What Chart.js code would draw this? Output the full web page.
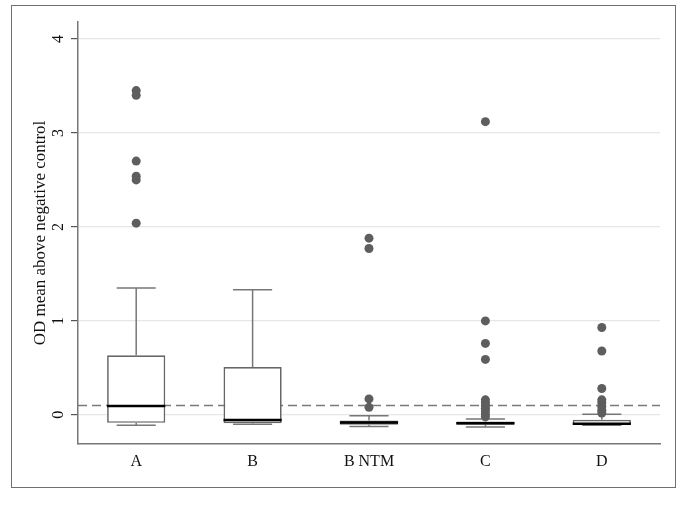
<!DOCTYPE html>
<html>
<head>
<meta charset="utf-8">
<script src="https://cdn.jsdelivr.net/npm/chart.js@4.4.1/dist/chart.umd.min.js"></script>
<style>
  html, body { margin: 0; padding: 0; background: #ffffff; }
  #wrap { position: relative; width: 685px; height: 506px; }
  #frame { position: absolute; left: 11px; top: 5px; width: 663px; height: 481px;
           border: 1.5px solid #707070; pointer-events: none; }
  canvas { position: absolute; left: 0; top: 0; }
</style>
</head>
<body>
<div id="wrap">
  <canvas id="c" width="685" height="506"></canvas>
  <div id="frame"></div>
</div>
<script>
// ---- data ----
const categories   = ['A', 'B', 'B NTM', 'C', 'D'];
const whiskerLow   = [-0.11, -0.10, -0.125, -0.13, -0.11];
const q1           = [-0.085, -0.09, -0.105, -0.105, -0.105];
const median       = [0.093, -0.055, -0.08, -0.09, -0.095];
const q3           = [0.635, 0.51, -0.06, -0.07, -0.053];
const whiskerHigh  = [1.35, 1.33, -0.01, -0.045, 0.007];
const outliersA    = [3.45, 3.40, 2.70, 2.54, 2.50, 2.04];
const outliersB    = [];
const outliersBNTM = [1.88, 1.77, 0.17, 0.08];
const outliersC    = [3.12, 1.00, 0.76, 0.59, 0.16, 0.13, 0.10, 0.07, 0.04, 0.01, -0.02];
const outliersD    = [0.93, 0.68, 0.28, 0.16, 0.13, 0.09, 0.05, 0.02];
const threshold    = 0.1;
const yTicks       = [0, 1, 2, 3, 4];
const yTitle       = 'OD mean above negative control';

// ---- build datasets ----
const outlierLists = [outliersA, outliersB, outliersBNTM, outliersC, outliersD];
const HALF_BOX = 0.25, HALF_CAP = 0.168;
const gap = (x) => ({ x: x, y: null });

const boxData = categories.map((c, i) => ({ x: i + 1, y: [q1[i], q3[i]] }));

const whiskerData = [];
categories.forEach((c, i) => {
  const x = i + 1;
  whiskerData.push({ x, y: q3[i] }, { x, y: whiskerHigh[i] }, gap(x));
  whiskerData.push({ x: x - HALF_CAP, y: whiskerHigh[i] }, { x: x + HALF_CAP, y: whiskerHigh[i] }, gap(x));
  whiskerData.push({ x, y: q1[i] }, { x, y: whiskerLow[i] }, gap(x));
  whiskerData.push({ x: x - HALF_CAP, y: whiskerLow[i] }, { x: x + HALF_CAP, y: whiskerLow[i] }, gap(x));
});

const medianData = [];
categories.forEach((c, i) => {
  const x = i + 1;
  medianData.push({ x: x - HALF_BOX, y: median[i] }, { x: x + HALF_BOX, y: median[i] }, gap(x));
});

const outlierData = [];
outlierLists.forEach((list, i) => list.forEach(v => outlierData.push({ x: i + 1, y: v })));

const thresholdData = [{ x: 0.5, y: threshold }, { x: categories.length + 0.5, y: threshold }];

const serif = 'Liberation Serif';
const GRAY = '#666666';

new Chart(document.getElementById('c'), {
  type: 'bar',
  data: {
    datasets: [
      { type: 'line', data: thresholdData, borderColor: '#7a7a7a', borderWidth: 1.5,
        borderDash: [9, 5], pointRadius: 0, fill: false, order: 5 },
      { type: 'bar', data: boxData, backgroundColor: '#ffffff', borderColor: GRAY,
        borderWidth: 1.7, borderSkipped: false, barPercentage: 0.5, categoryPercentage: 1, order: 4 },
      { type: 'line', data: whiskerData, borderColor: '#777777', borderWidth: 1.5,
        pointRadius: 0, spanGaps: false, fill: false, order: 3 },
      { type: 'line', data: medianData, borderColor: '#000000', borderWidth: 2.5,
        pointRadius: 0, spanGaps: false, fill: false, order: 2 },
      { type: 'scatter', data: outlierData, backgroundColor: '#5e5e5e', borderWidth: 0,
        pointRadius: 4.5, order: 1 }
    ]
  },
  options: {
    responsive: false,
    animation: false,
    events: [],
    layout: { padding: { left: 12, top: 22, right: 25, bottom: 18 } },
    plugins: { legend: { display: false }, tooltip: { enabled: false } },
    scales: {
      x: {
        type: 'linear',
        offset: false,
        min: 0.5,
        max: categories.length + 0.5,
        afterBuildTicks: (s) => { s.ticks = categories.map((c, i) => ({ value: i + 1 })); },
        afterFit: (s) => { s.height = 44; },
        ticks: {
          callback: (v) => categories[Math.round(v) - 1] || '',
          font: { family: serif, size: 16 }, color: '#111', padding: 8,
          maxRotation: 0, autoSkip: false
        },
        grid: { offset: false, drawOnChartArea: false, drawTicks: false },
        border: { display: true, color: '#777777', width: 1.5 }
      },
      y: {
        type: 'linear',
        min: -0.31,
        max: 4.18,
        afterBuildTicks: (s) => { s.ticks = yTicks.map(v => ({ value: v })); },
        afterFit: (s) => { s.width = 66; },
        ticks: {
          font: { family: serif, size: 16 }, color: '#111',
          minRotation: 90, maxRotation: 90, crossAlign: 'center', padding: 8
        },
        grid: { color: '#e6e6e6', lineWidth: 1.2, tickLength: 7, tickColor: '#555555', tickWidth: 1.2 },
        border: { display: true, color: '#777777', width: 1.5 },
        title: { display: true, text: yTitle, font: { family: serif, size: 17 }, color: '#111',
                 padding: { top: 18, bottom: 0 } }
      }
    }
  }
});
</script>
</body>
</html>
